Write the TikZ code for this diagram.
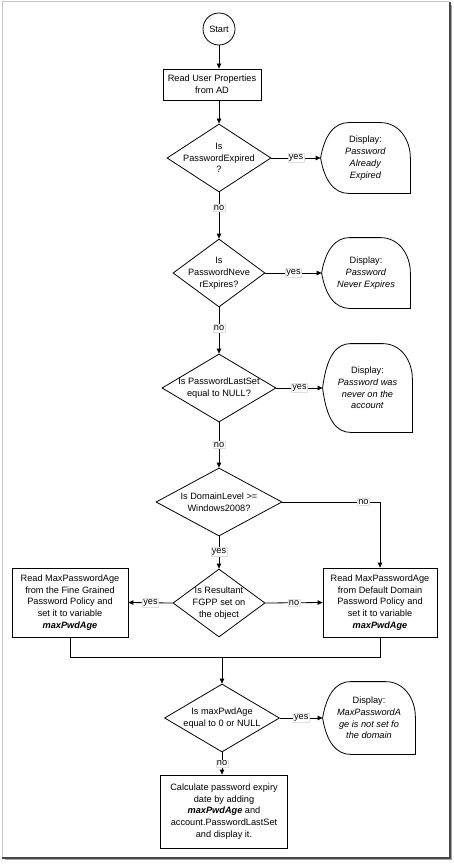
\documentclass[tikz,border=0pt]{standalone}
\usepackage{fontspec}
\setmainfont{Liberation Sans}
\usetikzlibrary{shapes.geometric,arrows.meta}
\begin{document}
\begin{tikzpicture}[x=1pt,y=-1pt,
  font=\fontsize{9.2}{11.8}\selectfont,
  line width=0.8pt,
  every node/.style={inner sep=0pt, align=center},
  dia/.style={diamond, draw, inner sep=0pt},
  boxnode/.style={rectangle, draw, inner sep=0pt},
  disp/.style={rectangle, inner sep=0pt},
  lbl/.style={fill=white, draw=black!12, line width=0.4pt, inner sep=1pt},
  arr/.style={-{Triangle[length=5pt,width=4.5pt]}}]
\fill[white] (0,0) rectangle (454,864);
\useasboundingbox (0,0) rectangle (454,864);
% frame
\draw[black!22, line width=1pt] (2,857) -- (2,2) -- (449,2);
\draw[black!35, line width=1.5pt] (451.5,5) -- (451.5,859.7) -- (5,859.7);
\draw[black!72, line width=2pt] (449.5,2) -- (449.5,857.5) -- (2,857.5);

% nodes
\node[circle, draw, minimum size=32pt] (start) at (219,29) {Start};
\node[boxnode, minimum width=98pt, minimum height=31pt] (read) at (212,84.5) {Read User Properties\\from AD};
\node[dia, minimum width=104pt, minimum height=68pt] (d1) at (219,158) {};
\node (d1t) at (d1.center) {Is\\PasswordExpired\\?};
\node[disp, minimum width=89pt, minimum height=70pt] (p1) at (365.5,158) {Display:\\\textit{Password}\\\textit{Already}\\\textit{Expired}};
\node[dia, minimum width=92pt, minimum height=68pt] (d2) at (219,273) {};
\node (d2t) at (d2.center) {Is\\PasswordNeve\\rExpires?};
\node[disp, minimum width=88pt, minimum height=70pt] (p2) at (366,273) {Display:\\\textit{Password}\\\textit{Never Expires}};
\node[dia, minimum width=114pt, minimum height=68pt] (d3) at (219,388) {};
\node (d3t) at (d3.center) {Is PasswordLastSet\\equal to NULL?};
\node[disp, minimum width=89pt, minimum height=88pt] (p3) at (367.5,388) {Display:\\\textit{Password was}\\\textit{never on the}\\\textit{account}};
\node[dia, minimum width=126pt, minimum height=68pt] (d4) at (219,502) {};
\node (d4t) at (d4.center) {Is DomainLevel >=\\Windows2008?};
\node[dia, minimum width=92pt, minimum height=68pt] (d5) at (219,603) {};
\node (d5t) at (d5.center) {Is Resultant\\FGPP set on\\the object};
\node[boxnode, minimum width=116pt, minimum height=69pt] (lb) at (70,602.5) {Read MaxPasswordAge\\from the Fine Grained\\Password Policy and\\set it to variable\\\textbf{\textit{maxPwdAge}}};
\node[boxnode, minimum width=114pt, minimum height=69pt] (rb) at (380,602.5) {Read MaxPasswordAge\\from Default Domain\\Password Policy and\\set it to variable\\\textbf{\textit{maxPwdAge}}};
\coordinate (m) at (222,657);
\node[dia, minimum width=115pt, minimum height=68pt] (d6) at (222,718) {};
\node (d6t) at (d6.center) {Is maxPwdAge\\equal to 0 or NULL};
\node[disp, minimum width=92pt, minimum height=72pt] (p4) at (369,718) {Display:\\\textit{MaxPasswordA}\\\textit{ge is not set fo}\\\textit{the domain}};
\node[boxnode, minimum width=127pt, minimum height=73pt] (fin) at (224,811.5) {Calculate password expiry\\date by adding\\\textbf{\textit{maxPwdAge}} and\\account.PasswordLastSet\\and display it.};

% display outlines
\foreach \p in {p1,p2,p3,p4}{
  \draw (\p.west) .. controls ([shift={(4,12)}]\p.north west) and ([shift={(14,0)}]\p.north west) .. ([shift={(28,0)}]\p.north west)
    -- ([shift={(-30,0)}]\p.north east) .. controls ([shift={(-12,0)}]\p.north east) and ([shift={(0,16)}]\p.north east) .. ([shift={(0,36)}]\p.north east)
    -- (\p.south east) -- ([shift={(28,0)}]\p.south west) .. controls ([shift={(14,0)}]\p.south west) and ([shift={(4,-12)}]\p.south west) .. (\p.west);
}

% connectors
\draw[arr] (start.south) -- (start.south |- read.north);
\draw[arr] (read.south -| d1.north) -- (d1.north);
\draw[arr] (d1.east) -- node[lbl]{yes} (p1.west);
\draw[arr] (d1.south) -- node[lbl, pos=0.33]{no} (d2.north);
\draw[arr] (d2.east) -- node[lbl]{yes} (p2.west);
\draw[arr] (d2.south) -- node[lbl, pos=0.45]{no} (d3.north);
\draw[arr] (d3.east) -- node[lbl]{yes} (p3.west);
\draw[arr] (d3.south) -- node[lbl, pos=0.5]{no} (d4.north);
\draw[arr] (d4.east) -- node[lbl, pos=0.83]{no} (d4.east -| rb.north) -- (rb.north);
\draw[arr] (d4.south) -- node[lbl, pos=0.48]{yes} (d5.north);
\draw[arr] (d5.west) -- node[lbl]{yes} (lb.east);
\draw[arr] (d5.east) -- node[lbl]{no} (rb.west);
\draw (lb.south) -- (lb.south |- m) -- (m);
\draw (rb.south) -- (rb.south |- m) -- (m);
\draw[arr] (m) -- (d6.north);
\draw[arr] (d6.east) -- node[lbl]{yes} (p4.west);
\draw[arr] (d6.south) -- node[lbl, pos=0.5]{no} (d6.south |- fin.north);
\end{tikzpicture}
\end{document}
